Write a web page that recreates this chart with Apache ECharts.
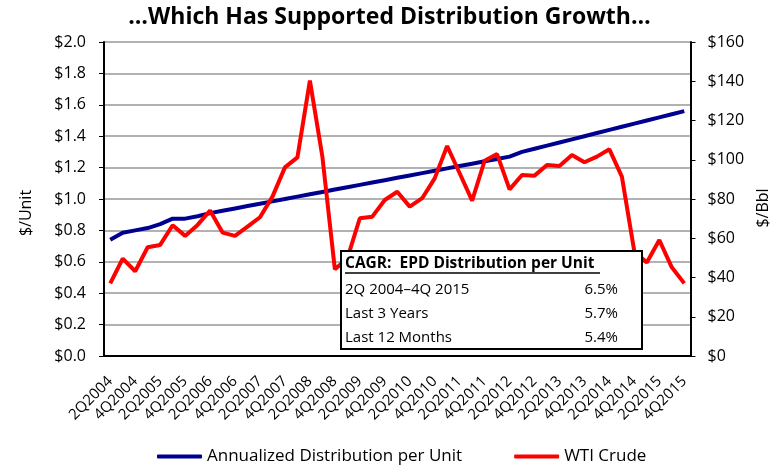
<!DOCTYPE html>
<html>
<head>
<meta charset="utf-8">
<script src="https://cdn.jsdelivr.net/npm/echarts@6/dist/echarts.min.js"></script>
<style>
  html, body { margin: 0; padding: 0; background: #fff; }
  #chart { width: 779px; height: 468px; }
</style>
</head>
<body>
<div id="chart"></div>
<script>
var FONT = '"Open Sans", sans-serif';

// quarters, 2Q2004 - 4Q2015
var quarters = [
  '2Q2004', '3Q2004', '4Q2004',
  '1Q2005', '2Q2005', '3Q2005', '4Q2005',
  '1Q2006', '2Q2006', '3Q2006', '4Q2006',
  '1Q2007', '2Q2007', '3Q2007', '4Q2007',
  '1Q2008', '2Q2008', '3Q2008', '4Q2008',
  '1Q2009', '2Q2009', '3Q2009', '4Q2009',
  '1Q2010', '2Q2010', '3Q2010', '4Q2010',
  '1Q2011', '2Q2011', '3Q2011', '4Q2011',
  '1Q2012', '2Q2012', '3Q2012', '4Q2012',
  '1Q2013', '2Q2013', '3Q2013', '4Q2013',
  '1Q2014', '2Q2014', '3Q2014', '4Q2014',
  '1Q2015', '2Q2015', '3Q2015', '4Q2015'
];

// annualized distribution per unit ($/unit)
var distribution = [
  0.74, 0.785, 0.80,
  0.815, 0.84, 0.875, 0.875,
  0.89, 0.91, 0.925, 0.94,
  0.955, 0.97, 0.985, 1.00,
  1.015, 1.03, 1.045, 1.06,
  1.075, 1.09, 1.105, 1.12,
  1.135, 1.15, 1.165, 1.18,
  1.195, 1.21, 1.225, 1.24,
  1.255, 1.27, 1.30, 1.32,
  1.34, 1.36, 1.38, 1.40,
  1.42, 1.44, 1.46, 1.48,
  1.50, 1.52, 1.54, 1.56
];

// WTI crude ($/bbl)
var wti = [
  37.0, 49.6, 43.2,
  55.4, 56.6, 66.6, 61.2,
  66.8, 74.1, 62.9, 61.2,
  65.9, 70.7, 81.2, 96.1,
  101.2, 140.3, 101.6, 44.2,
  49.7, 70.2, 71.0, 79.5,
  83.7, 76.1, 80.4, 90.5,
  107.0, 93.1, 79.2, 99.5,
  102.9, 84.9, 92.2, 91.9,
  97.3, 96.8, 102.4, 98.7,
  101.6, 105.3, 91.4, 53.2,
  47.6, 59.1, 45.2, 37.0
];

var leftTicks = { min: 0, max: 2, interval: 0.2 };
var rightTicks = { min: 0, max: 160, interval: 20 };

var cagrTitle = 'CAGR:  EPD Distribution per Unit';
var cagrPeriods = ['2Q 2004\u20134Q 2015', 'Last 3 Years', 'Last 12 Months'];
var cagrRates = ['6.5%', '5.7%', '5.4%'];

var chart = echarts.init(document.getElementById('chart'));

// CAGR 表格框，盖在线条上面
var boxItems = [
  {
    type: 'rect', z: 100,
    shape: { x: 341, y: 251, width: 301, height: 98 },
    style: { fill: '#fff', stroke: '#000', lineWidth: 2 }
  },
  {
    type: 'text', z: 101,
    x: 345, y: 264,
    style: { text: cagrTitle, font: 'bold 15.5px ' + FONT, fill: '#000', textVerticalAlign: 'middle' }
  },
  {
    type: 'line', z: 101,
    shape: { x1: 345, y1: 273, x2: 600, y2: 273 },
    style: { stroke: '#000', lineWidth: 1.3 }
  }
];
cagrPeriods.forEach(function(p, i) {
  boxItems.push({
    type: 'text', z: 101,
    x: 345, y: 290 + i * 24,
    style: { text: p, font: '15px ' + FONT, fill: '#000', textVerticalAlign: 'middle' }
  });
  boxItems.push({
    type: 'text', z: 101,
    x: 618, y: 290 + i * 24,
    style: { text: cagrRates[i], font: '15px ' + FONT, fill: '#000', textAlign: 'right', textVerticalAlign: 'middle' }
  });
});

var option = {
  animation: false,
  backgroundColor: '#fff',
  textStyle: { fontFamily: FONT },
  title: {
    text: '\u2026Which Has Supported Distribution Growth\u2026',
    left: 'center',
    top: 1,
    textStyle: { fontFamily: FONT, fontSize: 23, fontWeight: 'bold', color: '#000' }
  },
  legend: {
    left: 152,
    top: 443,
    itemGap: 52,
    itemWidth: 45,
    itemHeight: 4,
    icon: 'roundRect',
    textStyle: { fontFamily: FONT, fontSize: 17, color: '#000' },
    data: ['Annualized Distribution per Unit', 'WTI Crude']
  },
  grid: { left: 104, right: 83, top: 42, bottom: 112 },
  xAxis: {
    type: 'category',
    data: quarters,
    boundaryGap: true,
    axisLine: { lineStyle: { color: '#000', width: 2 } },
    axisTick: { interval: 0, length: 5, lineStyle: { color: '#000', width: 1 } },
    axisLabel: { interval: 1, rotate: 45, fontSize: 15, color: '#000', margin: 23 },
    splitLine: { show: false }
  },
  yAxis: [
    {
      type: 'value',
      min: leftTicks.min, max: leftTicks.max, interval: leftTicks.interval,
      name: '$/Unit',
      nameLocation: 'middle',
      nameRotate: 90,
      nameGap: 70,
      nameTextStyle: { fontSize: 16, color: '#000', padding: [0, 28, 0, 0] },
      axisLine: { show: true, lineStyle: { color: '#000', width: 2 } },
      axisTick: { show: true, length: 5, lineStyle: { color: '#000' } },
      axisLabel: {
        fontSize: 16, color: '#000', margin: 18,
        formatter: function(v) { return '$' + v.toFixed(1); }
      },
      splitLine: { lineStyle: { color: '#999', width: 1.5 } }
    },
    {
      type: 'value',
      min: rightTicks.min, max: rightTicks.max, interval: rightTicks.interval,
      name: '$/Bbl',
      nameLocation: 'middle',
      nameRotate: 90,
      nameGap: 57,
      nameTextStyle: { fontSize: 16, color: '#000', padding: [0, 18, 0, 0] },
      axisLine: { show: true, lineStyle: { color: '#000', width: 2 } },
      axisTick: { show: true, length: 5, lineStyle: { color: '#000' } },
      axisLabel: {
        fontSize: 16, color: '#000', margin: 17,
        formatter: function(v) { return '$' + v; }
      },
      splitLine: { show: false }
    }
  ],
  series: [
    {
      name: 'Annualized Distribution per Unit',
      type: 'line',
      yAxisIndex: 0,
      data: distribution,
      symbol: 'none',
      itemStyle: { color: '#000090' },
      lineStyle: { color: '#000090', width: 4 }
    },
    {
      name: 'WTI Crude',
      type: 'line',
      yAxisIndex: 1,
      data: wti,
      symbol: 'none',
      itemStyle: { color: '#ff0000' },
      lineStyle: { color: '#ff0000', width: 4 }
    }
  ],
  graphic: boxItems
};

chart.setOption(option);
</script>
</body>
</html>
